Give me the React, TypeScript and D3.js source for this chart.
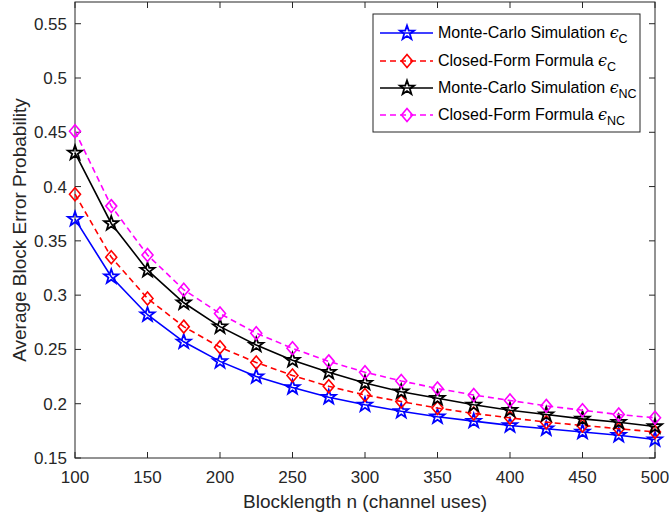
import React from "react";
import * as d3 from "d3";

const blocklengths = [100, 125, 150, 175, 200, 225, 250, 275, 300, 325, 350, 375, 400, 425, 450, 475, 500];
const mcC = [0.370, 0.317, 0.282, 0.257, 0.239, 0.225, 0.215, 0.206, 0.199, 0.193, 0.188, 0.184, 0.180, 0.177, 0.174, 0.171, 0.167];
const cfC = [0.393, 0.335, 0.297, 0.271, 0.252, 0.238, 0.226, 0.216, 0.208, 0.202, 0.196, 0.191, 0.187, 0.183, 0.180, 0.177, 0.174];
const mcNC = [0.431, 0.366, 0.323, 0.293, 0.271, 0.254, 0.240, 0.229, 0.219, 0.211, 0.205, 0.199, 0.194, 0.190, 0.186, 0.183, 0.179];
const cfNC = [0.451, 0.382, 0.337, 0.305, 0.283, 0.265, 0.251, 0.239, 0.229, 0.221, 0.214, 0.208, 0.203, 0.198, 0.194, 0.190, 0.187];

const xTicks = [100, 150, 200, 250, 300, 350, 400, 450, 500];
const yTicks = [0.15, 0.2, 0.25, 0.3, 0.35, 0.4, 0.45, 0.5, 0.55];

const seriesDefs = [
  { name: "Monte-Carlo Simulation ", sub: "C", values: mcC, color: "#0000ff", dashed: false, marker: "star" },
  { name: "Closed-Form Formula ", sub: "C", values: cfC, color: "#ff0000", dashed: true, marker: "diamond" },
  { name: "Monte-Carlo Simulation ", sub: "NC", values: mcNC, color: "#000000", dashed: false, marker: "star" },
  { name: "Closed-Form Formula ", sub: "NC", values: cfNC, color: "#ff00ff", dashed: true, marker: "diamond" },
];

const W = 669, H = 523;
const M = { left: 75, right: 655, top: 2, bottom: 458 };
const FONT = "'Liberation Sans', Arial, Helvetica, sans-serif";

function starPath(cx: number, cy: number, R: number, r: number) {
  const pts: string[] = [];
  for (let i = 0; i < 10; i++) {
    const a = -Math.PI / 2 + (i * Math.PI) / 5;
    const rad = i % 2 === 0 ? R : r;
    pts.push(`${(cx + rad * Math.cos(a)).toFixed(2)},${(cy + rad * Math.sin(a)).toFixed(2)}`);
  }
  return "M" + pts.join("L") + "Z";
}
function diamondPath(cx: number, cy: number, w: number, h: number) {
  return `M${cx},${cy - h}L${cx + w},${cy}L${cx},${cy + h}L${cx - w},${cy}Z`;
}

function Marker({ type, x, y, color }: { type: string; x: number; y: number; color: string }) {
  if (type === "star") {
    return <path d={starPath(x, y, 7.5, 3)} fill="none" stroke={color} strokeWidth={1.8} strokeLinejoin="miter" />;
  }
  return <path d={diamondPath(x, y, 5.5, 6.5)} fill="none" stroke={color} strokeWidth={1.6} />;
}

export default function App() {
  const x = d3.scaleLinear().domain([100, 500]).range([M.left, M.right]);
  const y = d3.scaleLinear().domain([0.15, 0.57]).range([M.bottom, M.top]);
  const line = d3
    .line<[number, number]>()
    .x((d) => x(d[0]))
    .y((d) => y(d[1]));

  const legX = 373, legY = 14, legW = 267, legH = 118;
  const rowY = [33, 61, 88, 115];

  return (
    <svg width={W} height={H} style={{ position: "absolute", left: 0, top: 0, background: "#fff" }} fontFamily={FONT}>
      <rect x={0} y={0} width={W} height={H} fill="#fff" />
      {xTicks.map((t) => (
        <g key={"xt" + t}>
          <line x1={x(t)} x2={x(t)} y1={M.bottom} y2={M.bottom - 6} stroke="#262626" strokeWidth={1} />
          <line x1={x(t)} x2={x(t)} y1={M.top} y2={M.top + 6} stroke="#262626" strokeWidth={1} />
          <text x={x(t)} y={M.bottom + 25} textAnchor="middle" fontSize={17} fill="#262626">
            {t}
          </text>
        </g>
      ))}
      {yTicks.map((t) => (
        <g key={"yt" + t}>
          <line x1={M.left} x2={M.left + 6} y1={y(t)} y2={y(t)} stroke="#262626" strokeWidth={1} />
          <line x1={M.right} x2={M.right - 6} y1={y(t)} y2={y(t)} stroke="#262626" strokeWidth={1} />
          <text x={M.left - 8} y={y(t) + 6} textAnchor="end" fontSize={17} fill="#262626">
            {d3.format("")(+t.toFixed(2))}
          </text>
        </g>
      ))}
      <rect x={M.left} y={M.top} width={M.right - M.left} height={M.bottom - M.top} fill="none" stroke="#262626" strokeWidth={1} />

      {seriesDefs.map((s, i) => {
        const pts = blocklengths.map((n, j) => [n, s.values[j]] as [number, number]);
        return (
          <g key={"s" + i}>
            <path d={line(pts) || ""} fill="none" stroke={s.color} strokeWidth={1.6} strokeDasharray={s.dashed ? "6,4" : undefined} />
            {pts.map((p, j) => (
              <Marker key={j} type={s.marker} x={x(p[0])} y={y(p[1])} color={s.color} />
            ))}
          </g>
        );
      })}

      <text x={(M.left + M.right) / 2} y={508} textAnchor="middle" fontSize={19} fill="#262626">
        Blocklength n (channel uses)
      </text>
      <text transform={`translate(26,${(M.top + M.bottom) / 2}) rotate(-90)`} textAnchor="middle" fontSize={19} fill="#262626">
        Average Block Error Probability
      </text>

      <rect x={legX} y={legY} width={legW} height={legH} fill="#fff" stroke="#262626" strokeWidth={1} />
      {seriesDefs.map((s, i) => (
        <g key={"l" + i}>
          <line x1={380} x2={433} y1={rowY[i]} y2={rowY[i]} stroke={s.color} strokeWidth={1.6} strokeDasharray={s.dashed ? "6,4" : undefined} />
          <Marker type={s.marker} x={407} y={rowY[i]} color={s.color} />
          <text x={438} y={rowY[i] + 5} fontSize={16} fill="#000">
            {s.name}
            <tspan fontFamily="'DejaVu Serif', serif" fontStyle="italic">ϵ</tspan>
            <tspan dy={5} fontSize={12.5}>{s.sub}</tspan>
          </text>
        </g>
      ))}
    </svg>
  );
}
